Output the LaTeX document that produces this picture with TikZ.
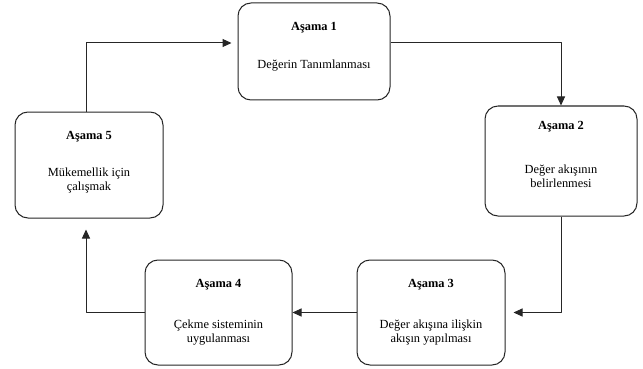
\documentclass[tikz,border=0pt]{standalone}
\usepackage{fontspec}
\setmainfont{Liberation Serif}
\usetikzlibrary{arrows.meta,positioning}
\tikzset{
  stage/.style={draw=black!85,line width=1pt,rounded corners=13pt,fill=white},
  stagetext/.style={align=center,inner sep=0pt,anchor=north,font=\fontsize{12.4}{13.6}\selectfont},
  flow/.style={draw=black!85,line width=1pt,->}
}
\begin{document}
\begin{tikzpicture}[x=1pt,y=-1pt,>={Triangle[length=9pt,width=8pt]},line join=round]
  \useasboundingbox (0,0) rectangle (643,369);
  % boxes
  \node[stage,minimum width=152pt,minimum height=97pt] (s1) at (314,51.5) {};
  \node[stage,minimum width=152pt,minimum height=110pt] (s2) at (561,161) {};
  \node[stage,minimum width=148pt,minimum height=105pt] (s3) at (431,312.5) {};
  \node[stage,minimum width=147pt,minimum height=105pt] (s4) at (218.5,312.5) {};
  \node[stage,minimum width=148pt,minimum height=106pt] (s5) at (89,165) {};
  % texts
  \node[stagetext] (t1) at ([yshift=-20pt]s1.north) {\textbf{Aşama 1}\\[24pt]Değerin Tanımlanması};
  \node[stagetext] (t2) at ([yshift=-16pt]s2.north) {\textbf{Aşama 2}\\[30pt]Değer akışının\\belirlenmesi};
  \node[stagetext] (t3) at ([yshift=-20pt]s3.north) {\textbf{Aşama 3}\\[27pt]Değer akışına ilişkin\\akışın yapılması};
  \node[stagetext] (t4) at ([yshift=-20pt]s4.north) {\textbf{Aşama 4}\\[27pt]Çekme sisteminin\\uygulanması};
  \node[stagetext] (t5) at ([yshift=-20pt]s5.north) {\textbf{Aşama 5}\\[23pt]Mükemellik için\\çalışmak};
  % arrows
  \draw[flow] ([yshift=8.5pt]s1.east) -| (s2.north);
  \draw[flow,shorten >=8pt] (s2.south) |- (s3.east);
  \draw[flow] (s3.west) -- (s4.east);
  \draw[flow,shorten >=11pt] (s4.west) -| ([xshift=-3pt]s5.south);
  \draw[flow,shorten >=6pt] ([xshift=-3pt]s5.north) |- ([yshift=8.5pt]s1.west);
\end{tikzpicture}
\end{document}
